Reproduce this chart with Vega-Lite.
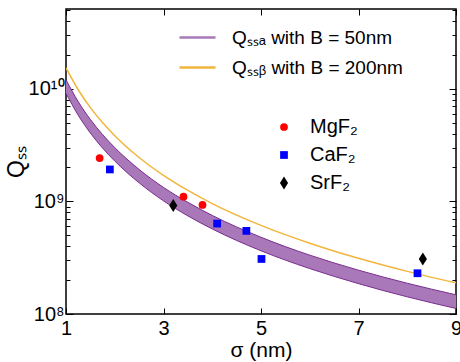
{
  "$schema": "https://vega.github.io/schema/vega-lite/v6.json",
  "width": 390,
  "height": 305,
  "autosize": {"type": "none"},
  "padding": {"left": 66, "top": 9, "right": 4, "bottom": 48},
  "config": {
    "font": "Liberation Sans",
    "view": {"stroke": "#000", "strokeWidth": 1.5},
    "axis": {"domain": false, "grid": false, "tickColor": "#000", "tickWidth": 1, "labelColor": "#000", "titleColor": "#000", "labelFont": "Liberation Sans", "titleFont": "Liberation Sans", "titleFontWeight": "normal"},
    "legend": {"labelFont": "Liberation Sans", "labelColor": "#000", "padding": 0, "labelLimit": 0}
  },
  "datasets": {
    "band": [
      {"s": 1, "hi": 1.2e10, "lo": 9.1e9},
      {"s": 1.25, "hi": 7.68e9, "lo": 5.82e9},
      {"s": 1.5, "hi": 5.33e9, "lo": 4.04e9},
      {"s": 1.75, "hi": 3.92e9, "lo": 2.97e9},
      {"s": 2, "hi": 3.0e9, "lo": 2.28e9},
      {"s": 2.5, "hi": 1.92e9, "lo": 1.46e9},
      {"s": 3, "hi": 1.33e9, "lo": 1.01e9},
      {"s": 3.5, "hi": 9.8e8, "lo": 7.43e8},
      {"s": 4, "hi": 7.5e8, "lo": 5.69e8},
      {"s": 5, "hi": 4.8e8, "lo": 3.64e8},
      {"s": 6, "hi": 3.33e8, "lo": 2.53e8},
      {"s": 7, "hi": 2.45e8, "lo": 1.86e8},
      {"s": 8, "hi": 1.875e8, "lo": 1.42e8},
      {"s": 9, "hi": 1.48e8, "lo": 1.12e8}
    ],
    "yline": [
      {"s": 1, "q": 1.53e10, "series": "Qₛₛᵦ with B = 200nm"},
      {"s": 1.25, "q": 9.79e9, "series": "Qₛₛᵦ with B = 200nm"},
      {"s": 1.5, "q": 6.8e9, "series": "Qₛₛᵦ with B = 200nm"},
      {"s": 1.75, "q": 5.0e9, "series": "Qₛₛᵦ with B = 200nm"},
      {"s": 2, "q": 3.83e9, "series": "Qₛₛᵦ with B = 200nm"},
      {"s": 2.5, "q": 2.45e9, "series": "Qₛₛᵦ with B = 200nm"},
      {"s": 3, "q": 1.7e9, "series": "Qₛₛᵦ with B = 200nm"},
      {"s": 3.5, "q": 1.25e9, "series": "Qₛₛᵦ with B = 200nm"},
      {"s": 4, "q": 9.56e8, "series": "Qₛₛᵦ with B = 200nm"},
      {"s": 5, "q": 6.12e8, "series": "Qₛₛᵦ with B = 200nm"},
      {"s": 6, "q": 4.25e8, "series": "Qₛₛᵦ with B = 200nm"},
      {"s": 7, "q": 3.12e8, "series": "Qₛₛᵦ with B = 200nm"},
      {"s": 8, "q": 2.39e8, "series": "Qₛₛᵦ with B = 200nm"},
      {"s": 9, "q": 1.89e8, "series": "Qₛₛᵦ with B = 200nm"}
    ],
    "pts": [
      {"s": 1.69, "q": 2.42e9, "mat": "MgF₂"},
      {"s": 3.41, "q": 1.10e9, "mat": "MgF₂"},
      {"s": 3.80, "q": 9.3e8, "mat": "MgF₂"},
      {"s": 1.90, "q": 1.92e9, "mat": "CaF₂"},
      {"s": 4.10, "q": 6.35e8, "mat": "CaF₂"},
      {"s": 4.70, "q": 5.47e8, "mat": "CaF₂"},
      {"s": 5.01, "q": 3.08e8, "mat": "CaF₂"},
      {"s": 8.21, "q": 2.30e8, "mat": "CaF₂"},
      {"s": 3.20, "q": 9.18e8, "mat": "SrF₂"},
      {"s": 8.32, "q": 3.08e8, "mat": "SrF₂"}
    ]
  },
  "layer": [
    {
      "data": {"name": "band"},
      "mark": {"type": "area", "fill": "#a878b8", "opacity": 1, "interpolate": "monotone", "clip": true},
      "encoding": {
        "x": {"field": "s", "type": "quantitative", "scale": {"domain": [1, 9], "nice": false, "zero": false},
          "axis": {"orient": "bottom", "values": [1, 3, 5, 7, 9], "tickSize": -6, "labelFontSize": 20, "labelPadding": 10, "title": "σ (nm)", "titleFontSize": 21, "titlePadding": 1, "labelFlush": false, "labelBound": false, "labelOverlap": false, "format": "d"}},
        "y": {"field": "hi", "type": "quantitative", "scale": {"type": "log", "domain": [1e8, 5.1e10], "nice": false},
          "axis": {"orient": "left", "values": [1e8, 1e9, 1e10], "tickSize": -7, "labelPadding": 9, "labelFontSize": 20, "labelExpr": "datum.value < 5e8 ? '10⁸' : datum.value < 5e9 ? '10⁹' : '10¹⁰'", "title": "Qₛₛ", "titleFontSize": 23, "titlePadding": 0, "labelOverlap": false}},
        "y2": {"field": "lo"}
      }
    },
    {
      "data": {"name": "band"},
      "mark": {"type": "line", "stroke": "#7b2d8e", "strokeWidth": 1, "interpolate": "monotone", "clip": true},
      "encoding": {
        "x": {"field": "s", "type": "quantitative", "axis": {"orient": "top", "values": [1, 3, 5, 7, 9], "tickSize": -6, "labels": false, "title": null}},
        "y": {"field": "hi", "type": "quantitative", "axis": {"orient": "right", "values": [1e8, 1e9, 1e10], "tickSize": -7, "labels": false, "title": null}}
      }
    },
    {
      "data": {"name": "band"},
      "mark": {"type": "line", "stroke": "#7b2d8e", "strokeWidth": 1, "interpolate": "monotone", "clip": true},
      "encoding": {
        "x": {"field": "s", "type": "quantitative", "axis": null},
        "y": {"field": "lo", "type": "quantitative", "axis": {"orient": "left", "values": [2e8, 3e8, 4e8, 5e8, 6e8, 7e8, 8e8, 9e8, 2e9, 3e9, 4e9, 5e9, 6e9, 7e9, 8e9, 9e9, 2e10, 3e10, 4e10, 5e10], "tickSize": -4, "labels": false, "title": null}}
      }
    },
    {
      "data": {"name": "yline"},
      "mark": {"type": "line", "strokeWidth": 1.5, "interpolate": "monotone", "clip": true},
      "encoding": {
        "x": {"field": "s", "type": "quantitative", "axis": null},
        "y": {"field": "q", "type": "quantitative", "axis": {"orient": "right", "values": [2e8, 3e8, 4e8, 5e8, 6e8, 7e8, 8e8, 9e8, 2e9, 3e9, 4e9, 5e9, 6e9, 7e9, 8e9, 9e9, 2e10, 3e10, 4e10, 5e10], "tickSize": -4, "labels": false, "title": null}},
        "stroke": {"field": "series", "type": "nominal",
          "scale": {"domain": ["Qₛₛₐ with B = 50nm", "Qₛₛᵦ with B = 200nm"], "range": ["#a878b8", "#f2b53c"]},
          "legend": {"orient": "none", "legendX": 112, "legendY": 9, "title": null, "symbolType": "stroke", "symbolSize": 1296, "symbolStrokeWidth": 2.5, "labelFontSize": 19, "labelOffset": 15, "rowPadding": -2, "labelLimit": 0}}
      }
    },
    {
      "data": {"name": "pts"},
      "mark": {"type": "point", "filled": true, "opacity": 1, "size": 60},
      "encoding": {
        "x": {"field": "s", "type": "quantitative", "axis": null},
        "y": {"field": "q", "type": "quantitative", "axis": null},
        "color": {"field": "mat", "type": "nominal",
          "scale": {"domain": ["MgF₂", "CaF₂", "SrF₂"], "range": ["#ff0000", "#0000ff", "#000000"]},
          "legend": {"orient": "none", "legendX": 208, "legendY": 108, "title": null, "labelFontSize": 20, "labelOffset": 16, "rowPadding": 8, "symbolSize": 60}},
        "shape": {"field": "mat", "type": "nominal",
          "scale": {"domain": ["MgF₂", "CaF₂", "SrF₂"], "range": ["circle", "square", "M0,-1.7L1.05,0L0,1.7L-1.05,0Z"]},
          "legend": {"orient": "none", "legendX": 208, "legendY": 108, "title": null, "labelFontSize": 20, "labelOffset": 16, "rowPadding": 8, "symbolSize": 60}}
      }
    }
  ],
  "resolve": {"axis": {"x": "independent", "y": "independent"}}
}
